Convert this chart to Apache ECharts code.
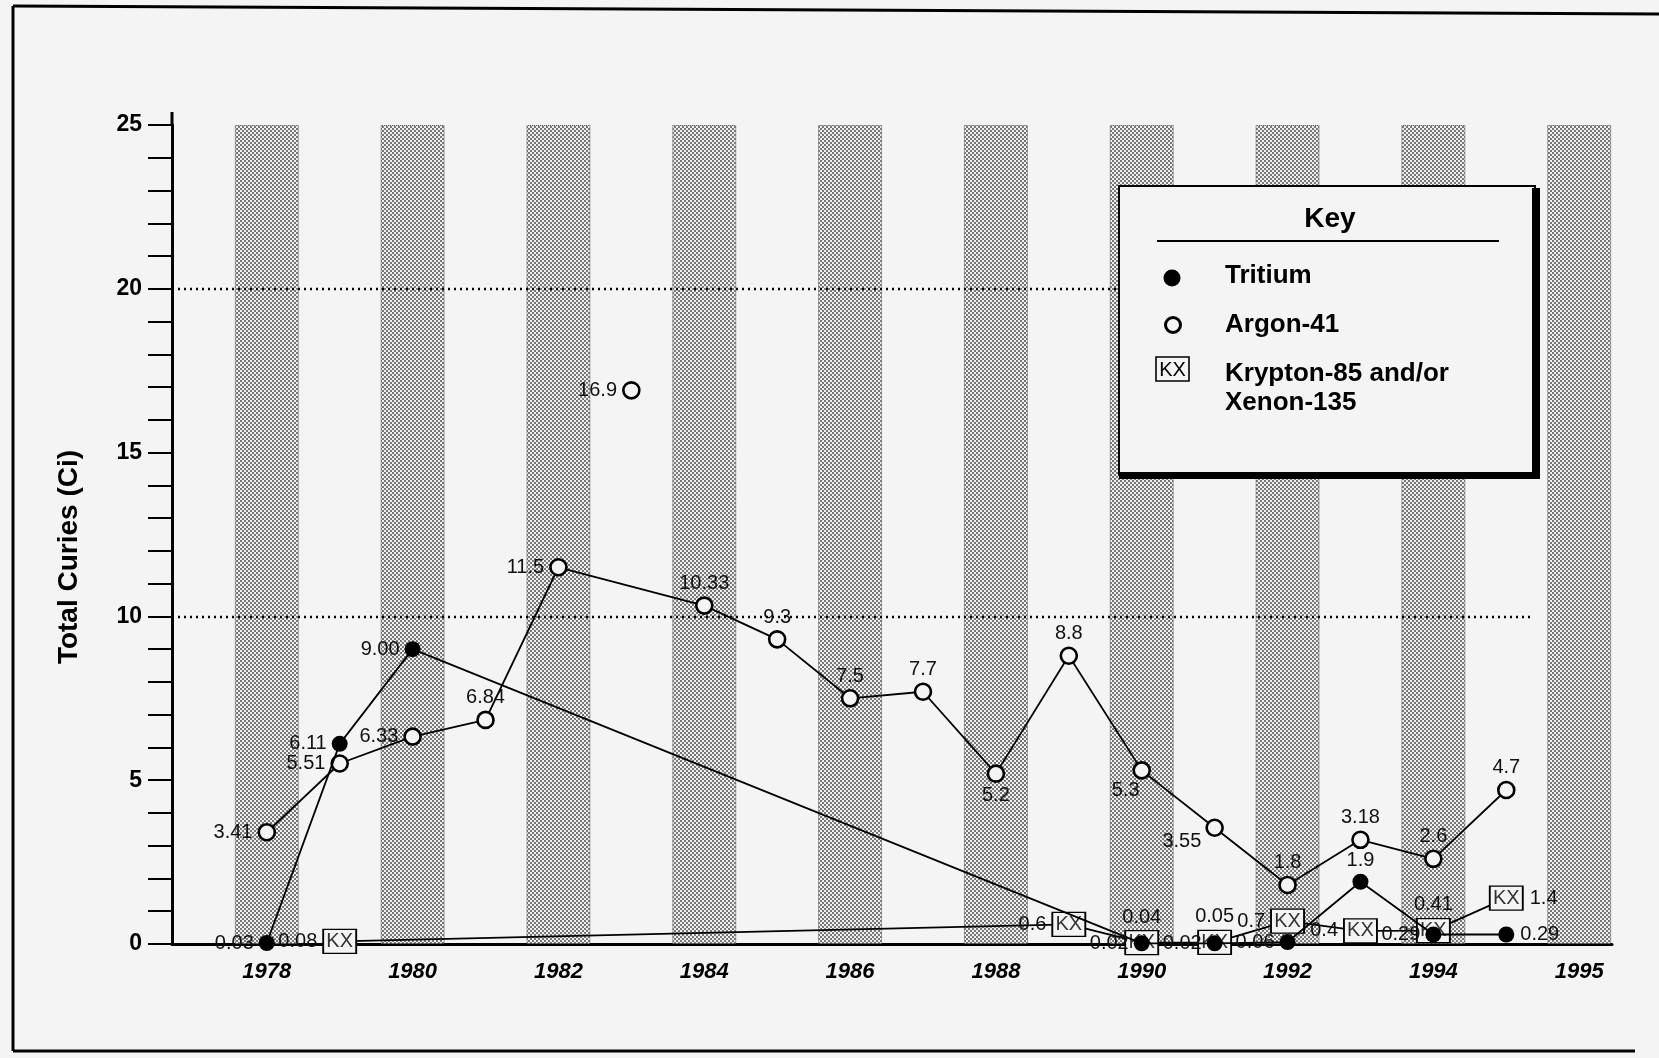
<!DOCTYPE html>
<html>
<head>
<meta charset="utf-8">
<title>Total Curies (Ci), 1978–1995</title>
<script src="https://cdn.jsdelivr.net/npm/echarts/dist/echarts.min.js"></script>
<style>
  html, body { margin: 0; padding: 0; background: #f4f4f4; }
  #chart { width: 1659px; height: 1058px; }
</style>
</head>
<body>
<div id="chart"></div>
<script>
// ---- data ----------------------------------------------------------------
const years = [1978, 1979, 1980, 1981, 1982, 1983, 1984, 1985, 1986,
               1987, 1988, 1989, 1990, 1991, 1992, 1993, 1994, 1995];

// values kept as printed so the labels read exactly as published
const tritium = ['0.03', '6.11', '9.00', null, null, null, null, null, null,
                 null, null, null, '0.02', '0.02', '0.06', '1.9', '0.29', '0.29'];
const argon41 = ['3.41', '5.51', '6.33', '6.84', '11.5', '16.9', '10.33', '9.3', '7.5',
                 '7.7', '5.2', '8.8', '5.3', '3.55', '1.8', '3.18', '2.6', '4.7'];
// Argon-41 years plotted as a lone marker, not joined into the trend line
const argonStandalone = [1983];
const kryptonXenon = [null, '0.08', null, null, null, null, null, null, null,
                      null, null, '0.6', '0.04', '0.05', '0.7', '0.4', '0.41', '1.4'];

const yearTicks = ['1978', '1980', '1982', '1984', '1986', '1988', '1990', '1992', '1994', '1995'];
const yMax = 25;
const guideLevels = [10, 20];

// ---- label placement (style only) ----------------------------------------
const argonLabelAt   = ['l','l','l','t','l','l','t','t','t','t','b','t','bl','lb','t','t','t','t'];
const tritiumLabelAt = ['l','l','l','','','','','','','','','','l','l','l','t','l','r'];
const kxLabelAt      = ['','l','','','','','','','','','','l','t','t','l','l','t','r'];

const FONT = "'Liberation Sans', Arial, Helvetica, sans-serif";
const PAPER = '#f4f4f4';
const INK = '#000';

const labelPlace = {
  l:  { position: 'left', distance: 5 },
  r:  { position: 'right', distance: 6 },
  t:  { position: 'top', distance: 3 },
  b:  { position: 'bottom', distance: 3 },
  bl: { position: 'bottom', distance: 1, offset: [-16, 0] },
  lb: { position: 'left', distance: 4, offset: [0, 14] }
};

// x positions: one slot per year; the shaded columns sit on every other slot
const slotOf = y => y - years[0];

function points(values, at, keep) {
  const out = [];
  values.forEach((v, i) => {
    if (v === null) return;
    if (keep && !keep(years[i])) return;
    out.push({ name: v, value: [slotOf(years[i]), Number(v)], label: labelPlace[at[i]] });
  });
  return out;
}

// halftone fill for the background columns
const tile = document.createElement('canvas');
tile.width = 4; tile.height = 4;
const tg = tile.getContext('2d');
tg.fillStyle = '#f0f0f0'; tg.fillRect(0, 0, 4, 4);
tg.fillStyle = '#777777'; tg.fillRect(0, 0, 2, 2); tg.fillRect(2, 2, 2, 2);

const valueLabel = { show: true, formatter: '{b}', fontSize: 20, color: '#111', fontFamily: FONT };
const KX_BOX = [33, 24];

const chart = echarts.init(document.getElementById('chart'), null, { renderer: 'canvas' });

const xMin = -1.30, xMax = 18.45, guideEnd = 17.34;

// key (legend) pieces, drawn above the plot
const KEY_Z = 100;
const keyParts = [
  { type: 'rect', shape: { x: 1119, y: 186, width: 416, height: 289 },
    style: { fill: PAPER, stroke: INK, lineWidth: 2 } },
  { type: 'rect', shape: { x: 1532, y: 188, width: 8, height: 291 }, style: { fill: INK } },
  { type: 'rect', shape: { x: 1119, y: 472, width: 421, height: 7 }, style: { fill: INK } },
  { type: 'text', x: 1330, y: 219,
    style: { text: 'Key', font: "bold 28px " + FONT, fill: INK, textAlign: 'center', textVerticalAlign: 'middle' } },
  { type: 'line', shape: { x1: 1157, y1: 241, x2: 1499, y2: 241 }, style: { stroke: INK, lineWidth: 2 } },
  { type: 'circle', shape: { cx: 1172, cy: 278, r: 8.5 }, style: { fill: INK } },
  { type: 'text', x: 1225, y: 276,
    style: { text: 'Tritium', font: "bold 26px " + FONT, fill: INK, textVerticalAlign: 'middle' } },
  { type: 'circle', shape: { cx: 1173, cy: 325, r: 7.5 }, style: { fill: PAPER, stroke: INK, lineWidth: 3 } },
  { type: 'text', x: 1225, y: 325,
    style: { text: 'Argon-41', font: "bold 26px " + FONT, fill: INK, textVerticalAlign: 'middle' } },
  { type: 'rect', shape: { x: 1156, y: 357, width: 33, height: 24 },
    style: { fill: PAPER, stroke: INK, lineWidth: 1.6 } },
  { type: 'text', x: 1172.5, y: 370,
    style: { text: 'KX', font: "20px " + FONT, fill: INK, textAlign: 'center', textVerticalAlign: 'middle' } },
  { type: 'text', x: 1225, y: 374,
    style: { text: 'Krypton-85 and/or', font: "bold 26px " + FONT, fill: INK, textVerticalAlign: 'middle' } },
  { type: 'text', x: 1225, y: 403,
    style: { text: 'Xenon-135', font: "bold 26px " + FONT, fill: INK, textVerticalAlign: 'middle' } }
].map(el => Object.assign({ z: KEY_Z, zlevel: 1 }, el));

chart.setOption({
  backgroundColor: PAPER,
  animation: false,
  textStyle: { fontFamily: FONT },
  grid: { left: 172, right: 47, top: 125, bottom: 114, containLabel: false },
  xAxis: {
    type: 'value', min: xMin, max: xMax,
    axisLine: { onZero: false, lineStyle: { color: INK, width: 3 } },
    axisTick: { show: false },
    splitLine: { show: false },
    axisLabel: {
      customValues: yearTicks.map((_, i) => i * 2),
      formatter: v => (v % 2 === 0 ? yearTicks[v / 2] : ''),
      fontSize: 22, fontWeight: 'bold', fontStyle: 'italic', color: INK,
      fontFamily: FONT, margin: 17
    }
  },
  yAxis: {
    type: 'value', min: 0, max: yMax, interval: 5,
    axisLine: { show: true, onZero: false, lineStyle: { color: INK, width: 3 } },
    axisTick: { show: true, length: 24, lineStyle: { color: INK, width: 2 } },
    minorTick: { show: true, splitNumber: 5, length: 24, lineStyle: { color: INK, width: 2 } },
    splitLine: { show: false },
    minorSplitLine: { show: false },
    axisLabel: { fontSize: 23, fontWeight: 'bold', color: INK, fontFamily: FONT, margin: 30 }
  },
  series: [
    {
      // shaded year columns
      type: 'bar', silent: true, z: 1,
      barWidth: 64,
      data: yearTicks.map((_, i) => [i * 2, yMax]),
      itemStyle: {
        color: { image: tile, repeat: 'repeat' },
        borderColor: '#555', borderWidth: 1, borderType: 'dotted'
      }
    },
    {
      name: 'Krypton-85 and/or Xenon-135', type: 'line', z: 3,
      data: points(kryptonXenon, kxLabelAt),
      symbol: 'rect', symbolSize: KX_BOX, showAllSymbol: true,
      itemStyle: { color: PAPER, borderColor: INK, borderWidth: 1.6 },
      lineStyle: { color: INK, width: 1.8 },
      label: valueLabel
    },
    {
      // "KX" tag inside each Krypton/Xenon box
      name: 'Krypton-85 and/or Xenon-135', type: 'scatter', z: 4, silent: true,
      data: points(kryptonXenon, kxLabelAt).map(p => ({ value: p.value })),
      symbol: 'rect', symbolSize: KX_BOX,
      itemStyle: { color: 'rgba(0,0,0,0)', borderWidth: 0 },
      label: { show: true, position: 'inside', formatter: 'KX', fontSize: 20,
               color: INK, fontFamily: FONT }
    },
    {
      name: 'Argon-41', type: 'line', z: 4,
      data: points(argon41, argonLabelAt, y => !argonStandalone.includes(y)),
      symbol: 'circle', symbolSize: 16, showAllSymbol: true,
      itemStyle: { color: PAPER, borderColor: INK, borderWidth: 2.6 },
      lineStyle: { color: INK, width: 1.8 },
      label: valueLabel,
      markLine: {
        silent: true, symbol: 'none', label: { show: false },
        lineStyle: { color: INK, width: 2.4, type: [2, 4] },
        data: guideLevels.map(v => [{ coord: [xMin, v] }, { coord: [guideEnd, v] }])
      }
    },
    {
      name: 'Argon-41', type: 'scatter', z: 4,
      data: points(argon41, argonLabelAt, y => argonStandalone.includes(y)),
      symbol: 'circle', symbolSize: 16,
      itemStyle: { color: PAPER, borderColor: INK, borderWidth: 2.6, opacity: 1 },
      label: valueLabel
    },
    {
      name: 'Tritium', type: 'line', z: 5,
      data: points(tritium, tritiumLabelAt),
      symbol: 'circle', symbolSize: 16, showAllSymbol: true,
      itemStyle: { color: INK },
      lineStyle: { color: INK, width: 1.8 },
      label: valueLabel
    }
  ],
  graphic: [
    // page frame
    { type: 'line', shape: { x1: 13, y1: 6, x2: 13, y2: 1051 }, style: { stroke: INK, lineWidth: 3 } },
    { type: 'line', shape: { x1: 13, y1: 6, x2: 1659, y2: 14 }, style: { stroke: INK, lineWidth: 3 } },
    { type: 'line', shape: { x1: 13, y1: 1051, x2: 1635, y2: 1051 }, style: { stroke: INK, lineWidth: 3 } },
    // y axis line continues a little above the top tick
    { type: 'line', shape: { x1: 172, y1: 112, x2: 172, y2: 126 }, style: { stroke: INK, lineWidth: 3 } },
    // axis title
    {
      type: 'text', x: 69, y: 557, rotation: Math.PI / 2,
      style: { text: 'Total Curies (Ci)', font: "bold 28px " + FONT, fill: INK,
               textAlign: 'center', textVerticalAlign: 'middle' }
    }
  ].concat(keyParts)
});
</script>
</body>
</html>
